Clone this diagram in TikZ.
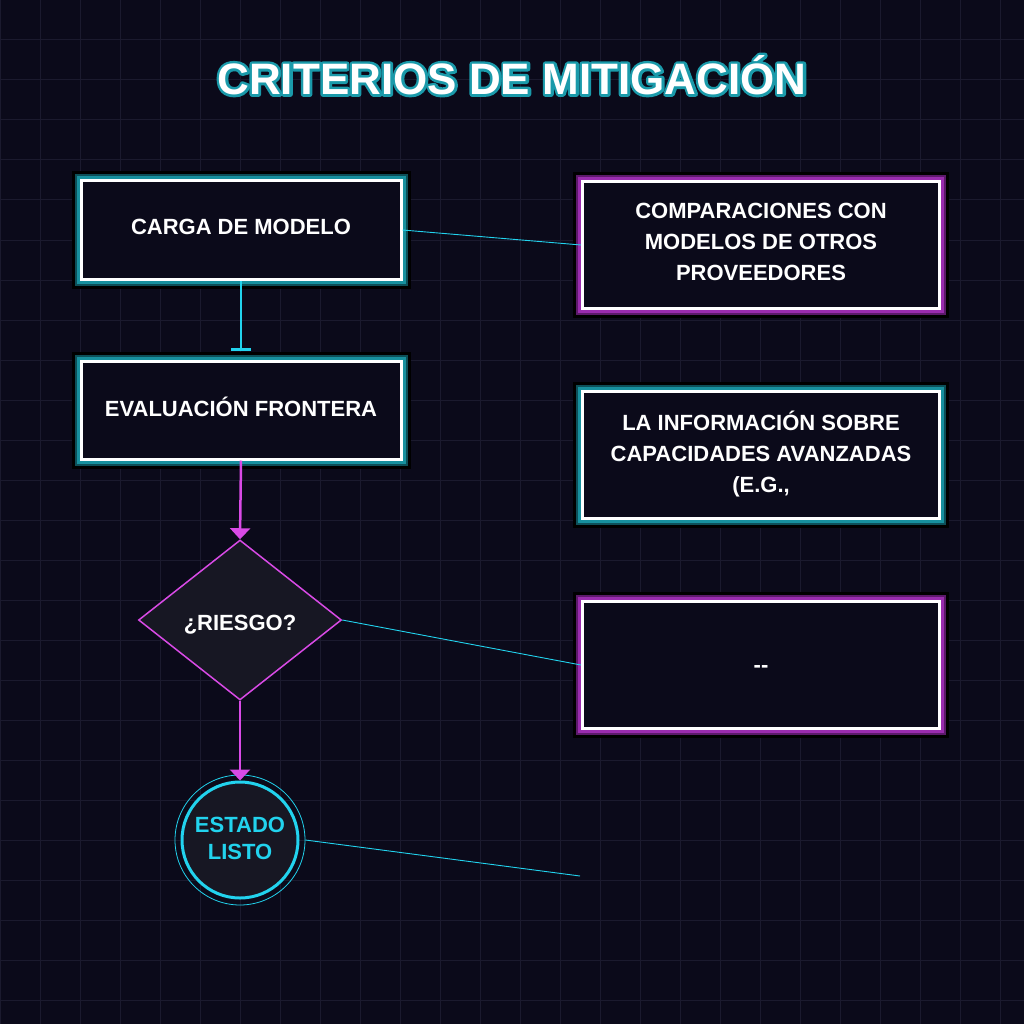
\documentclass[tikz,border=0pt]{standalone}
\usepackage{fontspec}
\setmainfont{Liberation Sans}
\newfontface\titleglow{Liberation Sans Bold}[FakeBold=12]
\newfontface\titleplain{Liberation Sans Bold}
\usetikzlibrary{shapes.geometric,arrows.meta}
\definecolor{bgc}{HTML}{0B0A1A}
\definecolor{gridc}{HTML}{1B1A2E}
\definecolor{tealg}{HTML}{17909E}
\definecolor{tealdk}{HTML}{0D4F58}
\definecolor{magg}{HTML}{9A2CAE}
\definecolor{magdk}{HTML}{5C1A6A}
\definecolor{magl}{HTML}{D94AE6}
\definecolor{cyanc}{HTML}{22D3EE}
\definecolor{shapefill}{HTML}{171723}
\definecolor{titleteal}{HTML}{1A9AAA}
\tikzset{
  txt/.style={font=\bfseries\fontsize{22}{31}\selectfont, text=white, align=center, text depth=7pt},
  tealbox/.style={txt, rectangle, fill=bgc, draw=white, line width=3pt, minimum width=320pt, minimum height=98pt,
    preaction={draw=black, line width=19pt},
    preaction={draw=tealdk, line width=13pt},
    preaction={draw=tealg, line width=9pt}},
  magbox/.style={txt, rectangle, fill=bgc, draw=white, line width=3pt, minimum width=357pt, minimum height=127pt,
    preaction={draw=black, line width=19pt},
    preaction={draw=magdk, line width=13pt},
    preaction={draw=magg, line width=9pt}},
  tealwide/.style={tealbox, minimum width=357pt, minimum height=127pt},
  decision/.style={txt, diamond, fill=shapefill, draw=magl, line width=1.5pt, inner sep=0pt, text depth=0pt, text height=21pt, minimum width=203pt, minimum height=160pt},
  endstate/.style={txt, font=\bfseries\fontsize{22}{27}\selectfont, text depth=3pt, circle, fill=shapefill, draw=cyanc, line width=3pt, text=cyanc, minimum size=116pt, inner sep=0pt},
  ring/.style={circle, draw=cyanc, line width=0.8pt, minimum size=130pt, inner sep=0pt},
  magarrow/.style={draw=magl, line width=2.5pt, -{Triangle[width=20pt,length=11pt]}},
  cyanbar/.style={draw=cyanc, line width=2.5pt, -{Bar[width=20pt,line width=2.5pt]}},
  thinlink/.style={draw=cyanc, line width=0.9pt},
}
\begin{document}
\begin{tikzpicture}[x=1pt,y=-1pt]
\fill[bgc] (0,0) rectangle (1024,1024);
\useasboundingbox (0,0) rectangle (1024,1024);
\foreach \k in {0,...,25} {
  \draw[gridc, line width=1pt] (40*\k,0) -- (40*\k,1024);
  \draw[gridc, line width=1pt] (0,40*\k) -- (1024,40*\k);
}
% title: teal halo under white letters
\begin{scope}[line join=round, miter limit=1]
\node[line join=round, font=\titleglow\fontsize{44}{50}\selectfont, text=titleteal] (titleback) at (512,75) {CRITERIOS DE MITIGACIÓN};
\end{scope}
\node[font=\titleplain\fontsize{44}{50}\selectfont, text=white] (title) at (512,75) {CRITERIOS DE MITIGACIÓN};
% nodes
\node[tealbox] (carga) at (241,230) {CARGA DE MODELO};
\node[tealbox] (eval) at (241,410) {EVALUACIÓN FRONTERA};
\node[decision] (risk) at (240,620) {¿RIESGO?};
\node[ring] (ring) at (240,840) {};
\node[endstate] (st) at (240,840) {ESTADO\\LISTO};
\node[magbox] (comp) at (761,245) {COMPARACIONES CON\\MODELOS DE OTROS\\PROVEEDORES};
\node[tealwide] (info) at (761,455) {LA INFORMACIÓN SOBRE\\CAPACIDADES AVANZADAS\\(E.G.,};
\node[magbox, text depth=0pt, text height=14pt] (dash) at (761,665) {-{}-};
\coordinate (free) at (580,876);
% connectors
\draw[cyanbar, shorten >=9pt] (carga.south) -- (eval.north);
\draw[magarrow] (eval.south) -- (risk.north);
\draw[magarrow] (risk.south) -- (st.north);
\draw[thinlink] (carga.east) -- (comp.west);
\draw[thinlink] (risk.east) -- (dash.west);
\draw[thinlink] (ring.east) -- (free);
\end{tikzpicture}
\end{document}
